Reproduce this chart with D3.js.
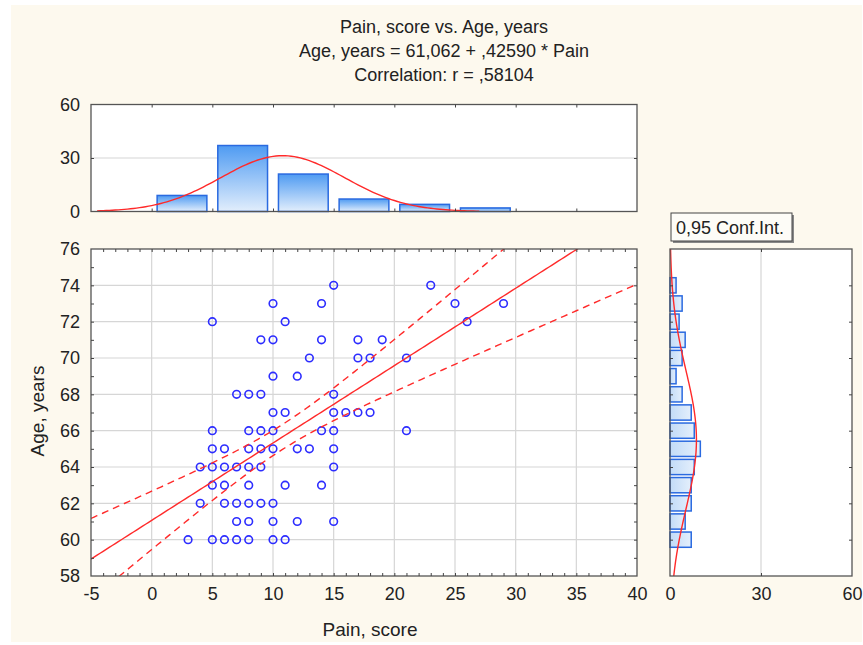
<!DOCTYPE html>
<html>
<head>
<meta charset="utf-8">
<script src="https://cdn.jsdelivr.net/npm/d3@7"></script>
<style>
  body { margin: 0; background: #fff; }
  svg { display: block; font-family: "Liberation Sans", Arial, sans-serif; }
</style>
</head>
<body>
<svg id="chart" width="863" height="645"></svg>
<script>
// ---- data ----
const titleLines = ['Pain, score vs. Age, years', 'Age, years = 61,062 + ,42590 * Pain', 'Correlation: r = ,58104']
const xLabel = 'Pain, score'
const yLabel = 'Age, years'
const ciLabel = '0,95 Conf.Int.'

// scatter points, one row per age
const ageRows = [74, 73, 72, 71, 70, 69, 68, 67, 66, 65, 64, 63, 62, 61, 60]
const painByAge = [
  [15, 23],
  [10, 14, 25, 29],
  [5, 11, 26],
  [9, 10, 14, 17, 19],
  [13, 17, 18, 21],
  [10, 12],
  [7, 8, 9, 15],
  [10, 11, 15, 16, 17, 18],
  [5, 8, 9, 10, 14, 15, 21],
  [5, 6, 8, 9, 10, 12, 13, 15],
  [4, 5, 6, 7, 8, 9, 15],
  [5, 6, 8, 11, 14],
  [4, 6, 7, 8, 9, 10],
  [7, 8, 10, 12, 15],
  [3, 5, 6, 7, 8, 10, 11]
]

// top histogram (pain), bins of 5
const painBinStarts = [0, 5, 10, 15, 20, 25]
const painCounts = [9, 37, 21, 7, 4, 2]
// right histogram (age), bins of 1
const ageBins = [74, 73, 72, 71, 70, 69, 68, 67, 66, 65, 64, 63, 62, 61, 60]
const ageCounts = [2, 4, 3, 5, 4, 2, 4, 7, 8, 10, 8, 7, 7, 5, 7]

const xTicks = [-5, 0, 5, 10, 15, 20, 25, 30, 35, 40]
const yTicks = [58, 60, 62, 64, 66, 68, 70, 72, 74, 76]
const topHistTicks = [0, 30, 60]
const rightHistTicks = [0, 30, 60]

// fit / distribution parameters
const regIntercept = 61.062, regSlope = 0.42590
const nObs = 80, painMean = 10.7, painSd = 5.1, residSd = 3.09, tCrit = 1.99
const painNorm = {mean: 10.8, sd: 5.1, bin: 5}
const ageNorm = {mean: 65.5, sd: 3.8, bin: 1}

// ---- drawing ----
const svg = d3.select('#chart')
const FONT = '"Liberation Sans", Arial, sans-serif'
const frameCol = '#555', gridCol = '#d6d6d6', red = '#ff2a2a', blue = '#2d2dff'

svg.append('rect').attr('x', 11).attr('y', 5).attr('width', 851).attr('height', 637).attr('fill', '#fdf9ee')

const x = d3.scaleLinear().domain([-5, 40]).range([91, 637])
const y = d3.scaleLinear().domain([58, 76]).range([576, 249])
const yTop = d3.scaleLinear().domain([0, 60]).range([211.5, 104.5])
const xRight = d3.scaleLinear().domain([0, 60]).range([670, 852])

const defs = svg.append('defs')
const gTop = defs.append('linearGradient').attr('id', 'gradTop').attr('x1', 0).attr('y1', 0).attr('x2', 0).attr('y2', 1)
gTop.append('stop').attr('offset', '0%').attr('stop-color', '#4f9bf2')
gTop.append('stop').attr('offset', '100%').attr('stop-color', '#e2eefc')
const gRight = defs.append('linearGradient').attr('id', 'gradRight').attr('x1', 0).attr('y1', 0).attr('x2', 1).attr('y2', 0)
gRight.append('stop').attr('offset', '0%').attr('stop-color', '#c2dbf7')
gRight.append('stop').attr('offset', '100%').attr('stop-color', '#e4effc')
defs.append('clipPath').attr('id', 'clipMain').append('rect')
  .attr('x', x(-5)).attr('y', y(76)).attr('width', x(40) - x(-5)).attr('height', y(58) - y(76))
defs.append('clipPath').attr('id', 'clipTop').append('rect')
  .attr('x', x(-5)).attr('y', yTop(60)).attr('width', x(40) - x(-5)).attr('height', yTop(0) - yTop(60))

// helper: small inner ticks without labels
function innerTicks(axisFn, scale, values, tx, ty, size){
  const g = svg.append('g').attr('transform', `translate(${tx},${ty})`)
    .call(axisFn(scale).tickValues(values).tickSize(size).tickFormat(''))
  g.select('.domain').remove()
  g.selectAll('line').attr('stroke', '#444')
  return g
}
function labels(axisFn, scale, values, tx, ty, pad){
  const g = svg.append('g').attr('transform', `translate(${tx},${ty})`)
    .call(axisFn(scale).tickValues(values).tickSize(0).tickPadding(pad).tickFormat(d => String(d)))
  g.select('.domain').remove()
  g.attr('font-family', FONT).attr('font-size', 18)
  g.selectAll('text').attr('fill', '#222')
  return g
}

// ---- title ----
svg.append('g').selectAll('text').data(titleLines).join('text')
  .attr('x', 444).attr('y', (d, i) => 33 + i * 24)
  .attr('text-anchor', 'middle').attr('font-size', 18).attr('fill', '#222')
  .text(d => d)

// ---- top histogram ----
svg.append('rect').attr('x', x(-5)).attr('y', yTop(60)).attr('width', x(40) - x(-5)).attr('height', yTop(0) - yTop(60)).attr('fill', '#fff')
svg.append('line').attr('x1', x(-5)).attr('x2', x(40)).attr('y1', yTop(30)).attr('y2', yTop(30)).attr('stroke', gridCol).attr('stroke-width', 1.2)
const bwTop = x(5) - x(0)
svg.append('g').selectAll('rect').data(painBinStarts).join('rect')
  .attr('x', d => x(d) + bwTop * 0.09).attr('width', bwTop * 0.82)
  .attr('y', (d, i) => yTop(painCounts[i])).attr('height', (d, i) => yTop(0) - yTop(painCounts[i]))
  .attr('fill', 'url(#gradTop)').attr('stroke', '#2a6ae0').attr('stroke-width', 1.5)
const pdf = (v, m, s) => Math.exp(-0.5 * ((v - m) / s) ** 2) / (s * Math.sqrt(2 * Math.PI))
const painTotal = d3.sum(painCounts)
svg.append('path').datum(d3.range(-4.5, 27.01, 0.25))
  .attr('clip-path', 'url(#clipTop)')
  .attr('d', d3.line().x(d => x(d)).y(d => yTop(painTotal * painNorm.bin * pdf(d, painNorm.mean, painNorm.sd))))
  .attr('fill', 'none').attr('stroke', red).attr('stroke-width', 1.4)
svg.append('rect').attr('x', x(-5)).attr('y', yTop(60)).attr('width', x(40) - x(-5)).attr('height', yTop(0) - yTop(60))
  .attr('fill', 'none').attr('stroke', frameCol).attr('stroke-width', 1.3)
innerTicks(d3.axisBottom, x, xTicks.slice(1, -1), 0, yTop(60), 3)
innerTicks(d3.axisTop, x, xTicks.slice(1, -1), 0, yTop(0), 3)
innerTicks(d3.axisRight, yTop, [30], x(-5), 0, 3)
innerTicks(d3.axisLeft, yTop, [30], x(40), 0, 3)
labels(d3.axisLeft, yTop, topHistTicks, x(-5), 0, 11)

// ---- scatter ----
svg.append('rect').attr('x', x(-5)).attr('y', y(76)).attr('width', x(40) - x(-5)).attr('height', y(58) - y(76)).attr('fill', '#fff')
svg.append('g').selectAll('line').data(xTicks.slice(1, -1)).join('line')
  .attr('x1', d => x(d)).attr('x2', d => x(d)).attr('y1', y(76)).attr('y2', y(58))
  .attr('stroke', gridCol).attr('stroke-width', 1.2)
svg.append('g').selectAll('line').data(yTicks.slice(1, -1)).join('line')
  .attr('y1', d => y(d)).attr('y2', d => y(d)).attr('x1', x(-5)).attr('x2', x(40))
  .attr('stroke', gridCol).attr('stroke-width', 1.2)

const points = ageRows.flatMap((a, i) => painByAge[i].map(p => ({pain: p, age: a})))
svg.append('g').selectAll('circle').data(points).join('circle')
  .attr('cx', d => x(d.pain)).attr('cy', d => y(d.age)).attr('r', 3.8)
  .attr('fill', 'none').attr('stroke', blue).attr('stroke-width', 1.6)

const fitX = d3.range(-5, 40.01, 0.25)
const yhat = v => regIntercept + regSlope * v
const hw = v => tCrit * residSd * Math.sqrt(1 / nObs + (v - painMean) ** 2 / ((nObs - 1) * painSd * painSd))
const lines = svg.append('g').attr('clip-path', 'url(#clipMain)').attr('fill', 'none').attr('stroke', red).attr('stroke-width', 1.4)
lines.append('path').datum(fitX).attr('d', d3.line().x(d => x(d)).y(d => y(yhat(d))))
lines.append('path').datum(fitX).attr('d', d3.line().x(d => x(d)).y(d => y(yhat(d) + hw(d)))).attr('stroke-dasharray', '7,5')
lines.append('path').datum(fitX).attr('d', d3.line().x(d => x(d)).y(d => y(yhat(d) - hw(d)))).attr('stroke-dasharray', '7,5')

svg.append('rect').attr('x', x(-5)).attr('y', y(76)).attr('width', x(40) - x(-5)).attr('height', y(58) - y(76))
  .attr('fill', 'none').attr('stroke', frameCol).attr('stroke-width', 1.3)
const minorX = d3.range(-4, 40)
const minorY = d3.range(59, 76)
innerTicks(d3.axisTop, x, minorX, 0, y(58), 3)
innerTicks(d3.axisBottom, x, minorX, 0, y(76), 3)
innerTicks(d3.axisRight, y, minorY, x(-5), 0, 3)
innerTicks(d3.axisLeft, y, minorY, x(40), 0, 3)
labels(d3.axisLeft, y, yTicks, x(-5), 0, 11)
labels(d3.axisBottom, x, xTicks, 0, y(58), 11)

svg.append('text').attr('x', 370).attr('y', 636).attr('text-anchor', 'middle')
  .attr('font-size', 19).attr('fill', '#222').text(xLabel)
svg.append('text').attr('transform', `translate(44,411) rotate(-90)`).attr('text-anchor', 'middle')
  .attr('font-size', 19).attr('fill', '#222').text(yLabel)

// ---- right histogram ----
svg.append('rect').attr('x', xRight(0)).attr('y', y(76)).attr('width', xRight(60) - xRight(0)).attr('height', y(58) - y(76)).attr('fill', '#fff')
svg.append('line').attr('x1', xRight(30)).attr('x2', xRight(30)).attr('y1', y(76)).attr('y2', y(58)).attr('stroke', gridCol).attr('stroke-width', 1.2)
const bhRight = y(0) - y(1)
svg.append('g').selectAll('rect').data(ageBins).join('rect')
  .attr('y', d => y(d + 0.5) + bhRight * 0.08).attr('height', bhRight * 0.84)
  .attr('x', xRight(0)).attr('width', (d, i) => xRight(ageCounts[i]) - xRight(0))
  .attr('fill', 'url(#gradRight)').attr('stroke', '#2a6ae0').attr('stroke-width', 1.5)
const ageTotal = d3.sum(ageCounts)
svg.append('path').datum(d3.range(58, 76.01, 0.2))
  .attr('d', d3.line().y(d => y(d)).x(d => xRight(ageTotal * ageNorm.bin * pdf(d, ageNorm.mean, ageNorm.sd))))
  .attr('fill', 'none').attr('stroke', red).attr('stroke-width', 1.4)
svg.append('rect').attr('x', xRight(0)).attr('y', y(76)).attr('width', xRight(60) - xRight(0)).attr('height', y(58) - y(76))
  .attr('fill', 'none').attr('stroke', frameCol).attr('stroke-width', 1.3)
const evenAges = d3.range(60, 76, 2)
innerTicks(d3.axisRight, y, evenAges, xRight(0), 0, 3)
innerTicks(d3.axisLeft, y, evenAges, xRight(60), 0, 3)
innerTicks(d3.axisBottom, xRight, [30], 0, y(76), 3)
innerTicks(d3.axisTop, xRight, [30], 0, y(58), 3)
labels(d3.axisBottom, xRight, rightHistTicks, 0, y(58), 11)

// ---- conf. int. box ----
svg.append('rect').attr('x', 673).attr('y', 215).attr('width', 121).attr('height', 28).attr('fill', '#888')
svg.append('rect').attr('x', 671).attr('y', 213).attr('width', 121).attr('height', 28)
  .attr('fill', '#fdfcf7').attr('stroke', '#444').attr('stroke-width', 1)
svg.append('text').attr('x', 676).attr('y', 233.5).attr('font-size', 18).attr('fill', '#222').text(ciLabel)
</script>
</body>
</html>
